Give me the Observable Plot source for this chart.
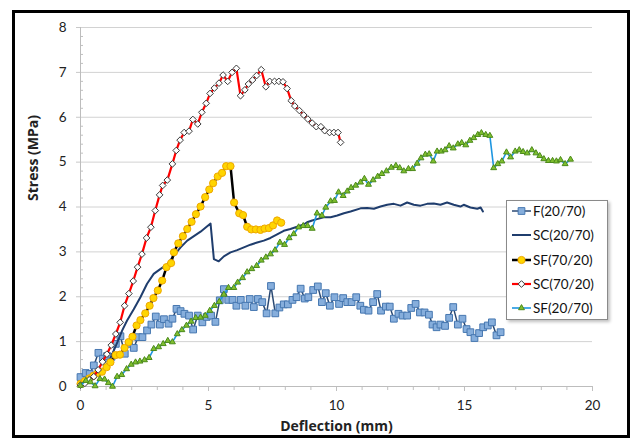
<!DOCTYPE html>
<html><head><meta charset="utf-8">
<script src="https://cdn.jsdelivr.net/npm/d3@7"></script>
<script src="https://cdn.jsdelivr.net/npm/@observablehq/plot@0.6"></script>
<style>
html,body{margin:0;padding:0;background:#fff;}
#wrap{position:relative;width:630px;height:438px;overflow:hidden;font-family:Lato,"Open Sans",sans-serif;}
#wrap > svg{position:absolute;left:0;top:0;}
#frame{position:absolute;left:12px;top:10px;width:618px;height:428px;box-sizing:border-box;border:3px solid #000;pointer-events:none;}
#legend{position:absolute;left:506px;top:200px;width:102px;height:120px;box-sizing:border-box;border:1px solid #8a8a8a;background:#fff;box-shadow:2px 2px 3px rgba(0,0,0,0.25);}
.item{position:absolute;left:4px;height:24px;display:flex;align-items:center;font-size:13.5px;color:#111;white-space:nowrap;}
.item svg{margin-right:1px;}
</style></head>
<body>
<div id="wrap"><div id="legend"></div><div id="frame"></div></div>
<script>
// ---- data ----
const seriesNames = ["F(20/70)", "SC(20/70)", "SF(70/20)", "SC(70/20)", "SF(20/70)"];
const xMajor = [0, 5, 10, 15, 20];
const yMajor = [0, 1, 2, 3, 4, 5, 6, 7, 8];

const f2070X = [0,0.2,0.36,0.52,0.70,0.87,1.04,1.21,1.38,1.56,1.73,1.90,2.08,2.25,2.42,2.60,2.77,2.94,3.10,3.26,3.44,3.59,3.75,3.91,4.06,4.24,4.40,4.58,4.76,4.93,5.10,5.27,5.44,5.60,5.77,5.94,6.09,6.26,6.44,6.61,6.77,6.93,7.10,7.27,7.44,7.61,7.77,7.94,8.10,8.28,8.44,8.60,8.76,8.90,9.09,9.27,9.43,9.58,9.74,9.92,10.10,10.26,10.42,10.59,10.77,10.93,11.07,11.25,11.43,11.59,11.74,11.93,12.08,12.24,12.42,12.58,12.76,12.92,13.09,13.26,13.44,13.61,13.75,13.91,14.06,14.24,14.40,14.56,14.74,14.92,15.08,15.23,15.39,15.57,15.73,15.91,16.07,16.25,16.41];
const f2070Y = [0.21,0.30,0.28,0.47,0.75,0.62,0.68,0.66,0.95,1.12,0.73,0.95,0.86,1.10,1.10,1.25,1.38,1.56,1.38,1.50,1.40,1.51,1.73,1.68,1.62,1.58,1.27,1.58,1.43,1.55,1.58,1.44,1.92,2.17,1.93,1.93,1.80,1.93,1.80,1.95,1.77,1.95,1.88,1.63,2.24,1.63,1.76,1.83,1.83,1.93,1.99,2.18,1.96,1.99,2.15,2.23,1.88,2.08,1.80,1.99,1.84,1.97,1.88,1.88,1.99,1.80,1.71,1.69,1.88,2.06,1.69,1.78,1.78,1.51,1.62,1.58,1.58,1.75,1.84,1.65,1.65,1.60,1.38,1.32,1.38,1.35,1.53,1.77,1.38,1.51,1.28,1.21,1.08,1.19,1.32,1.36,1.43,1.14,1.21];

const sc2070X = [0,0.3,0.6,0.9,1.1,1.3,1.45,1.63,1.82,2.08,2.34,2.60,2.86,3.13,3.39,3.65,3.91,4.17,4.43,4.69,4.95,5.08,5.21,5.40,5.60,5.86,6.12,6.38,6.64,6.90,7.16,7.42,7.68,7.94,8.20,8.46,8.72,8.85,9.05,9.24,9.5,9.77,10.03,10.29,10.55,10.94,11.2,11.46,11.72,11.98,12.24,12.5,12.76,13.02,13.28,13.54,13.8,14.06,14.32,14.58,14.84,14.97,15.23,15.5,15.63,15.72];
const sc2070Y = [0.03,0.12,0.25,0.4,0.55,0.8,1.0,1.25,1.47,1.72,1.99,2.29,2.51,2.62,2.72,2.92,3.10,3.25,3.35,3.45,3.57,3.63,2.84,2.79,2.90,2.99,3.04,3.10,3.16,3.21,3.25,3.31,3.39,3.47,3.51,3.56,3.61,3.66,3.70,3.73,3.77,3.77,3.81,3.86,3.90,3.97,3.98,3.96,4.01,4.05,4.07,4.03,4.10,4.05,4.03,4.07,4.08,4.05,4.10,4.05,4.01,4.05,3.99,3.96,3.99,3.90];

const sf7020X = [0,0.17,0.34,0.50,0.67,0.84,1.02,1.17,1.37,1.54,1.72,1.88,2.03,2.19,2.34,2.53,2.70,2.85,3.02,3.19,3.36,3.54,3.65,3.82,4.00,4.17,4.34,4.51,4.69,4.87,5.03,5.18,5.36,5.53,5.69,5.86,6.00,6.20,6.35,6.51,6.67,6.85,7.03,7.19,7.36,7.52,7.68,7.84];
const sf7020Y = [0.06,0.12,0.18,0.24,0.30,0.33,0.43,0.54,0.70,0.71,0.86,0.99,1.11,1.36,1.48,1.63,1.80,1.97,2.14,2.36,2.66,2.75,2.99,3.19,3.35,3.51,3.67,3.84,4.01,4.22,4.39,4.53,4.68,4.76,4.91,4.91,4.10,3.86,3.82,3.56,3.50,3.50,3.49,3.52,3.53,3.59,3.70,3.65];

const sc7020X = [0,0.17,0.34,0.52,0.69,0.86,1.03,1.20,1.38,1.55,1.72,1.89,2.06,2.23,2.40,2.58,2.75,2.92,3.09,3.21,3.39,3.59,3.74,3.89,4.05,4.24,4.39,4.58,4.74,4.91,5.06,5.23,5.41,5.57,5.75,5.92,6.09,6.25,6.42,6.56,6.72,6.88,7.06,7.24,7.39,7.58,7.75,7.91,8.07,8.23,8.37,8.55,8.72,8.88,9.05,9.21,9.39,9.54,9.73,9.90,10.06,10.16];
const sc7020Y = [0.03,0.07,0.15,0.22,0.37,0.55,0.72,0.92,1.17,1.43,1.80,2.07,2.35,2.66,2.95,3.31,3.55,3.92,4.27,4.48,4.60,4.96,5.26,5.49,5.66,5.69,5.95,5.85,6.11,6.31,6.53,6.65,6.76,6.94,6.80,7.00,7.09,6.48,6.61,6.74,6.83,6.93,7.06,6.68,6.80,6.80,6.80,6.79,6.64,6.37,6.25,6.15,6.05,5.96,5.87,5.79,5.79,5.70,5.66,5.66,5.66,5.44];

const sf2070X = [0,0.21,0.39,0.57,0.76,0.94,1.09,1.25,1.43,1.61,1.80,1.98,2.15,2.32,2.50,2.68,2.86,3.05,3.23,3.41,3.59,3.78,3.96,4.14,4.32,4.50,4.69,4.87,5.05,5.23,5.42,5.60,5.78,5.99,6.14,6.33,6.51,6.69,6.88,7.06,7.24,7.42,7.60,7.79,7.97,8.15,8.33,8.52,8.70,8.87,9.05,9.24,9.43,9.58,9.77,9.92,10.08,10.26,10.42,10.57,10.75,10.94,11.09,11.25,11.43,11.61,11.77,11.95,12.14,12.32,12.47,12.63,12.81,12.97,13.15,13.30,13.47,13.62,13.78,13.93,14.09,14.24,14.40,14.56,14.74,14.89,15.05,15.21,15.36,15.52,15.66,15.83,15.99,16.14,16.30,16.46,16.64,16.80,16.98,17.14,17.29,17.45,17.63,17.79,17.94,18.10,18.28,18.44,18.59,18.75,18.93,19.14];
const sf2070Y = [0.02,0.13,0.10,0.01,0.17,0.16,0.08,0.0,0.22,0.26,0.39,0.49,0.54,0.56,0.59,0.64,0.84,0.88,0.95,1.02,0.99,1.17,1.26,1.36,1.45,1.53,1.54,1.58,1.69,1.80,1.89,2.05,2.20,2.20,2.32,2.42,2.55,2.62,2.69,2.81,2.88,2.95,3.04,3.21,3.16,3.31,3.40,3.55,3.58,3.58,3.52,3.86,3.81,3.99,4.13,4.14,4.33,4.25,4.35,4.43,4.48,4.55,4.63,4.50,4.60,4.68,4.74,4.80,4.88,4.92,4.87,4.80,4.85,4.85,4.97,5.09,5.17,5.18,5.02,5.24,5.24,5.27,5.36,5.31,5.40,5.43,5.38,5.48,5.54,5.61,5.65,5.61,5.59,4.87,4.96,5.02,5.22,5.11,5.24,5.27,5.23,5.20,5.27,5.20,5.14,5.07,5.03,5.03,5.02,5.05,4.96,5.06];

// ---- build tables ----
const zip = (xs, ys) => xs.map((x, i) => ({x, y: ys[i]}));
const F2070 = zip(f2070X, f2070Y);
const SC2070 = zip(sc2070X, sc2070Y);
const SF7020 = zip(sf7020X, sf7020Y);
const SC7020 = zip(sc7020X, sc7020Y);
const SF2070 = zip(sf2070X, sf2070Y);

const yMinor = d3.range(0, 8.001, 0.2).map(v => +v.toFixed(1)).filter(v => !yMajor.includes(v));
const xMinor = d3.range(0, 21, 1).filter(v => !xMajor.includes(v));

const styles = [
  {line: "#2b4a74", width: 1.5, symbol: "square", r: 3.8, fill: "#86aedc", stroke: "#4677b0"},
  {line: "#1f3d6d", width: 2, symbol: null},
  {line: "#000000", width: 2.5, symbol: "circle", r: 3.6, fill: "#ffd500", stroke: "#eea700"},
  {line: "#ff0000", width: 2.2, symbol: "diamond2", r: 3.0, fill: "#ffffff", stroke: "#3a3a3a"},
  {line: "#1e96e0", width: 1.6, symbol: "triangle", r: 2.2, fill: "#7fbf2e", stroke: "#4c8a1b"}
];
const tables = [F2070, SC2070, SF7020, SC7020, SF2070];

const seriesMarks = [];
tables.forEach((t, i) => {
  const s = styles[i];
  seriesMarks.push(Plot.line(t, {x: "x", y: "y", stroke: s.line, strokeWidth: s.width}));
  if (s.symbol) seriesMarks.push(Plot.dot(t, {x: "x", y: "y", symbol: s.symbol, r: s.r, fill: s.fill, stroke: s.stroke, strokeWidth: 1}));
});

const titleFont = "'Open Sans', Lato, sans-serif";
const chart = Plot.plot({
  width: 630, height: 438,
  marginLeft: 80, marginRight: 38, marginTop: 27, marginBottom: 52,
  x: {domain: [0, 20]},
  y: {domain: [0, 8]},
  style: {fontFamily: "Lato, 'Open Sans', sans-serif", fontSize: "13.5px", color: "#222", background: "transparent", overflow: "visible"},
  marks: [
    Plot.gridY(yMajor, {stroke: "#d2d2d2", strokeOpacity: 1}),
    Plot.axisY(yMajor, {tickSize: 4, tickPadding: 10, stroke: "#c8c8c8", label: null, fill: "#222"}),
    Plot.axisY(yMinor, {tickSize: 3, dx: 3, tickFormat: () => "", stroke: "#c0c0c0", label: null}),
    Plot.axisX(xMajor, {tickSize: 5, tickPadding: 9, stroke: "#c0c0c0", label: null, fill: "#222"}),
    Plot.axisX(xMinor, {tickSize: 4, tickFormat: () => "", stroke: "#c0c0c0", label: null}),
    Plot.ruleX([0], {stroke: "#bdbdbd"}),
    Plot.ruleY([0], {stroke: "#bdbdbd"}),
    ...seriesMarks,
    Plot.text(["Deflection (mm)"], {frameAnchor: "bottom", dy: 44, fontWeight: "bold", fontSize: 14, fontFamily: titleFont, fill: "#222"}),
    Plot.text(["Stress (MPa)"], {frameAnchor: "left", dx: -47, dy: -6, rotate: -90, fontWeight: "bold", fontSize: 14, fontFamily: titleFont, fill: "#222"})
  ]
});
const wrap = document.getElementById("wrap");
wrap.insertBefore(chart, wrap.firstChild);

// ---- legend (HTML overlay inside the plot area) ----
const legend = document.getElementById("legend");
seriesNames.forEach((name, i) => {
  const s = styles[i];
  const item = document.createElement("div");
  item.className = "item";
  item.style.top = (-2 + i * 24.3) + "px";
  const svg = d3.create("svg").attr("width", 21).attr("height", 12);
  svg.append("line").attr("x1", 1).attr("x2", 20).attr("y1", 6).attr("y2", 6)
    .attr("stroke", s.line).attr("stroke-width", s.width);
  if (s.symbol) {
    const typ = {square: d3.symbolSquare, circle: d3.symbolCircle, diamond2: d3.symbolDiamond2, triangle: d3.symbolTriangle}[s.symbol];
    svg.append("path").attr("d", d3.symbol(typ, Math.PI * s.r * s.r)())
      .attr("transform", "translate(10.5,6)").attr("fill", s.fill).attr("stroke", s.stroke);
  }
  item.appendChild(svg.node());
  const span = document.createElement("span");
  span.textContent = name;
  item.appendChild(span);
  legend.appendChild(item);
});
</script>
</body></html>
